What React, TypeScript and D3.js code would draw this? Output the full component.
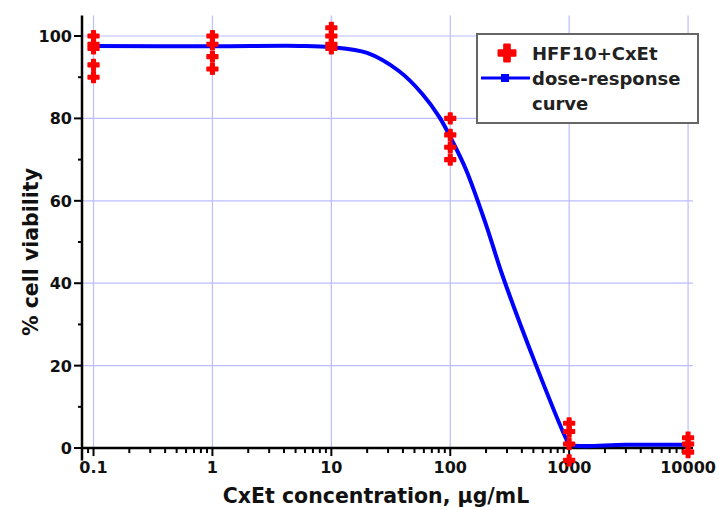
import React, { useEffect, useRef } from "react";
import * as d3 from "d3";

// measured points (µg/mL -> % viability)
const doses = [0.1, 1, 10, 100, 1000, 10000];
const viability = [
  [100, 98, 97, 93, 90],
  [100, 98, 95, 92],
  [102, 100, 98, 97],
  [80, 76, 73, 70],
  [6, 4, 1, -3],
  [2.5, 1, -1],
];

// fitted curve
const fitDose = [0.1, 1, 5.4, 10, 20, 37, 58, 81, 102, 136, 201, 274, 528, 944, 1000, 3000, 10000];
const fitViab = [97.6, 97.5, 97.6, 97.3, 95.9, 91.5, 86, 80.3, 75, 67.5, 54, 42, 20, 2.2, 0.9, 0.8, 0.8];

const xTicks = [0.1, 1, 10, 100, 1000, 10000];
const xTickLabels = ["0.1", "1", "10", "100", "1000", "10000"];
const yTicks = [0, 20, 40, 60, 80, 100];
const yMinor = [10, 30, 50, 70, 90];

const legendLabels = ["HFF10+CxEt", "dose-response", "curve"];

export default function App() {
  const ref = useRef<SVGSVGElement>(null);

  useEffect(() => {
    const svg = d3.select(ref.current);
    svg.selectAll("*").remove();

    const font = "'DejaVu Sans', sans-serif";
    const x = d3.scaleLog().domain([0.08, 11000]).range([82, 693]);
    const y = d3.scaleLinear().domain([-3, 105]).range([460.4, 15.4]);
    const grid = "#bcbcff";

    svg.append("rect").attr("width", 719).attr("height", 510).attr("fill", "#fff");

    // grid
    svg.append("g")
      .selectAll("line")
      .data(yTicks.filter((d) => d > 0))
      .enter()
      .append("line")
      .attr("x1", x.range()[0])
      .attr("x2", x.range()[1])
      .attr("y1", (d) => y(d))
      .attr("y2", (d) => y(d))
      .attr("stroke", grid)
      .attr("stroke-width", 1.2);

    svg.append("g")
      .selectAll("line")
      .data(xTicks)
      .enter()
      .append("line")
      .attr("x1", (d) => x(d))
      .attr("x2", (d) => x(d))
      .attr("y1", y.range()[1])
      .attr("y2", y(0))
      .attr("stroke", grid)
      .attr("stroke-width", 1.2);

    // axes
    const ax = svg.append("g").attr("stroke", "#000");
    ax.append("line")
      .attr("x1", x.range()[0]).attr("x2", x.range()[0])
      .attr("y1", y.range()[1]).attr("y2", y.range()[0])
      .attr("stroke-width", 2.5);
    ax.append("line")
      .attr("x1", x.range()[0] - 1).attr("x2", x.range()[1])
      .attr("y1", y(0)).attr("y2", y(0))
      .attr("stroke-width", 2.5);

    ax.selectAll(".ymaj")
      .data(yTicks)
      .enter()
      .append("line")
      .attr("x1", x.range()[0] - 8).attr("x2", x.range()[0])
      .attr("y1", (d) => y(d)).attr("y2", (d) => y(d))
      .attr("stroke-width", 2);
    ax.selectAll(".ymin")
      .data(yMinor)
      .enter()
      .append("line")
      .attr("x1", x.range()[0] - 4).attr("x2", x.range()[0])
      .attr("y1", (d) => y(d)).attr("y2", (d) => y(d))
      .attr("stroke-width", 2);

    const minorX = x.ticks().filter((d) => !xTicks.includes(d));
    ax.selectAll(".xmin")
      .data(minorX)
      .enter()
      .append("line")
      .attr("x1", (d) => x(d)).attr("x2", (d) => x(d))
      .attr("y1", y(0)).attr("y2", y(0) + 5)
      .attr("stroke-width", 2);
    ax.selectAll(".xmaj")
      .data(xTicks)
      .enter()
      .append("line")
      .attr("x1", (d) => x(d)).attr("x2", (d) => x(d))
      .attr("y1", y(0)).attr("y2", y(0) + 8)
      .attr("stroke-width", 2);

    // tick labels
    svg.append("g")
      .selectAll("text")
      .data(yTicks)
      .enter()
      .append("text")
      .attr("x", x.range()[0] - 10)
      .attr("y", (d) => y(d) + 6)
      .attr("text-anchor", "end")
      .attr("font-family", font)
      .attr("font-weight", "bold")
      .attr("font-size", 16)
      .attr("fill", "#111")
      .text((d) => d);

    svg.append("g")
      .selectAll("text")
      .data(xTicks)
      .enter()
      .append("text")
      .attr("x", (d) => x(d))
      .attr("y", y(0) + 25)
      .attr("text-anchor", "middle")
      .attr("font-family", font)
      .attr("font-weight", "bold")
      .attr("font-size", 16)
      .attr("fill", "#111")
      .text((d, i) => xTickLabels[i]);

    // axis titles
    svg.append("text")
      .attr("transform", "translate(38, 252) rotate(-90)")
      .attr("text-anchor", "middle")
      .attr("font-family", font)
      .attr("font-weight", "bold")
      .attr("font-size", 20.5)
      .attr("fill", "#111")
      .text("% cell viability");

    svg.append("text")
      .attr("x", 376)
      .attr("y", 503)
      .attr("text-anchor", "middle")
      .attr("font-family", font)
      .attr("font-weight", "bold")
      .attr("font-size", 20.5)
      .attr("fill", "#111")
      .text("CxEt concentration, µg/mL");

    // fitted curve
    const fit = fitDose.map((d, i) => [d, fitViab[i]] as [number, number]);
    const line = d3.line<[number, number]>()
      .x((d) => x(d[0]))
      .y((d) => y(d[1]))
      .curve(d3.curveCatmullRom.alpha(0.5));
    svg.append("path")
      .attr("d", line(fit))
      .attr("fill", "none")
      .attr("stroke", "#0000ff")
      .attr("stroke-width", 4);

    // measured points
    const pts = doses.flatMap((d, i) => viability[i].map((v) => ({ d, v })));
    const cross = d3.symbol().type(d3.symbolCross).size(64);
    svg.append("g")
      .selectAll("path")
      .data(pts)
      .enter()
      .append("path")
      .attr("d", cross)
      .attr("transform", (p) => `translate(${x(p.d)},${y(p.v)})`)
      .attr("fill", "#ff0000")
      .attr("stroke", "#ff0000")
      .attr("stroke-width", 1.5)
      .attr("stroke-linejoin", "round");

    // legend
    const lg = svg.append("g");
    lg.append("rect")
      .attr("x", 477).attr("y", 34)
      .attr("width", 221).attr("height", 89)
      .attr("fill", "#fff")
      .attr("stroke", "#666")
      .attr("stroke-width", 2);
    lg.append("path")
      .attr("d", d3.symbol().type(d3.symbolCross).size(160)())
      .attr("transform", "translate(507,53)")
      .attr("fill", "#ff0000")
      .attr("stroke", "#ff0000")
      .attr("stroke-width", 2)
      .attr("stroke-linejoin", "round");
    lg.append("line")
      .attr("x1", 481).attr("x2", 530)
      .attr("y1", 78).attr("y2", 78)
      .attr("stroke", "#0000ff")
      .attr("stroke-width", 3);
    lg.append("rect")
      .attr("x", 501).attr("y", 74)
      .attr("width", 8).attr("height", 8)
      .attr("fill", "#0000ff");
    lg.selectAll("text")
      .data(legendLabels)
      .enter()
      .append("text")
      .attr("x", 532)
      .attr("y", (d, i) => 60 + i * 25)
      .attr("font-family", font)
      .attr("font-weight", "bold")
      .attr("font-size", 18)
      .attr("fill", "#222")
      .text((d) => d);
  }, []);

  return (
    <svg
      ref={ref}
      width={719}
      height={510}
      style={{ position: "absolute", left: 0, top: 0 }}
    ></svg>
  );
}
